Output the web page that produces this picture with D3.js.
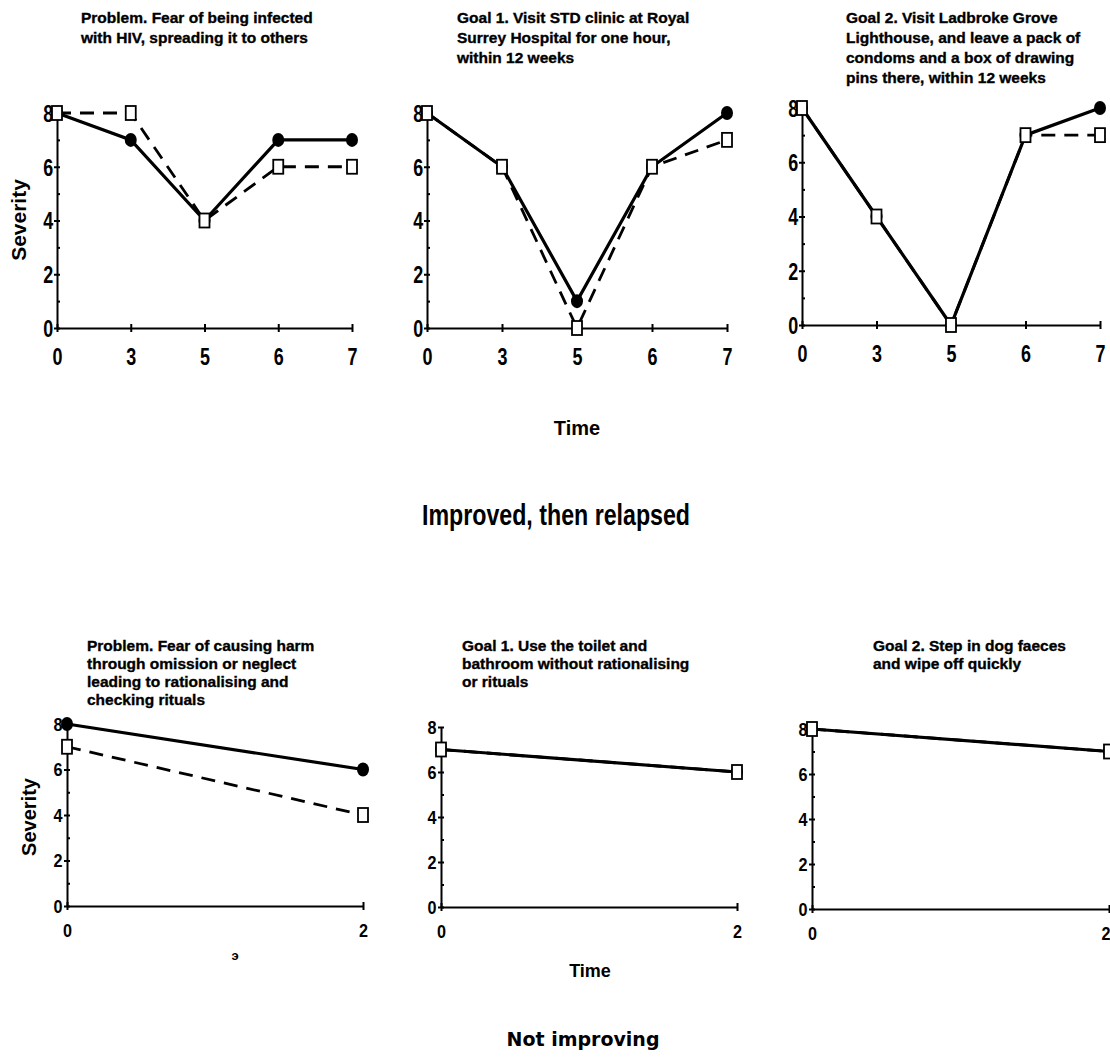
<!DOCTYPE html>
<html>
<head>
<meta charset="utf-8">
<script src="https://cdn.jsdelivr.net/npm/d3@7"></script>
<style>
    body { margin: 0; background: #fff; }
    svg { display: block; }
    .title { font: 700 15.5px "Liberation Sans", Arial, sans-serif; fill: #000; stroke: #000; stroke-width: 0.35; }
    .axis path, .axis line { stroke: #000; stroke-width: 2; }
    .bigTick { font: 700 23px "Liberation Sans", Arial, sans-serif; fill: #000; }
    .smallTick { font: 700 18px "Liberation Sans", Arial, sans-serif; fill: #000; }
    .label { font-family: "Liberation Sans", Arial, sans-serif; font-weight: 700; fill: #000; }
</style>
</head>
<body>
<svg width="1110" height="1057"></svg>
<script>
// time points on the x axis
const topTimes = ["0", "3", "5", "6", "7"];
const bottomTimes = ["0", "2"];
const severityTicks = [0, 2, 4, 6, 8];
const severityMinor = [1, 3, 5, 7];

// panel titles
const topTitles = [
    ["Problem. Fear of being infected", "with HIV, spreading it to others"],
    ["Goal 1. Visit STD clinic at Royal", "Surrey Hospital for one hour,", "within 12 weeks"],
    ["Goal 2. Visit Ladbroke Grove", "Lighthouse, and leave a pack of", "condoms and a box of drawing", "pins there, within 12 weeks"]
];
const bottomTitles = [
    ["Problem. Fear of causing harm", "through omission or neglect", "leading to rationalising and", "checking rituals"],
    ["Goal 1. Use the toilet and", "bathroom without rationalising", "or rituals"],
    ["Goal 2. Step in dog faeces", "and wipe off quickly"]
];

// severity ratings: solid line with filled circles, dashed line with open squares
const hivSolid = [8, 7, 4, 7, 7];
const hivDashed = [8, 8, 4, 6, 6];
const stdSolid = [8, 6, 1, 6, 8];
const stdDashed = [8, 6, 0, 6, 7];
const lighthouseSolid = [8, 4, 0, 7, 8];
const lighthouseDashed = [8, 4, 0, 7, 7];
const harmSolid = [8, 6];
const harmDashed = [7, 4];
const toiletSolid = [7, 6];
const toiletDashed = [7, 6];
const faecesSolid = [8, 7];
const faecesDashed = [8, 7];

let svg = d3.select("svg");

let panels = [
    { times: topTimes, solid: hivSolid, dashed: hivDashed, title: topTitles[0],
      x0: 57, x1: 352, yTop: 113, yBot: 328, titleX: 81, titleY: 23, lead: 20, big: true },
    { times: topTimes, solid: stdSolid, dashed: stdDashed, title: topTitles[1],
      x0: 427, x1: 727, yTop: 113, yBot: 328, titleX: 457, titleY: 23, lead: 20, big: true },
    { times: topTimes, solid: lighthouseSolid, dashed: lighthouseDashed, title: topTitles[2],
      x0: 802, x1: 1100, yTop: 108, yBot: 325, titleX: 846, titleY: 23, lead: 20, big: true },
    { times: bottomTimes, solid: harmSolid, dashed: harmDashed, title: bottomTitles[0],
      x0: 67, x1: 363, yTop: 724, yBot: 906, titleX: 87, titleY: 651, lead: 18, big: false },
    { times: bottomTimes, solid: toiletSolid, dashed: toiletDashed, title: bottomTitles[1],
      x0: 441, x1: 737, yTop: 727, yBot: 907, titleX: 462, titleY: 651, lead: 18, big: false },
    { times: bottomTimes, solid: faecesSolid, dashed: faecesDashed, title: bottomTitles[2],
      x0: 812, x1: 1109, yTop: 729, yBot: 909, titleX: 873, titleY: 651, lead: 18, big: false }
];

function drawPanel(p) {
    let g = svg.append("g");
    let x = d3.scalePoint().domain(p.times).range([p.x0, p.x1]).padding(0);
    let y = d3.scaleLinear().domain([0, 8]).range([p.yBot, p.yTop]);
    let tickClass = p.big ? "bigTick" : "smallTick";
    let squeeze = p.big ? 0.78 : 0.9;

    //title lines
    g.append("text")
        .attr("class", "title")
        .selectAll("tspan")
        .data(p.title)
        .join("tspan")
        .attr("x", p.titleX)
        .attr("y", (d, i) => p.titleY + i * p.lead)
        .text(d => d);

    //minor ticks on the y axis
    g.append("g")
        .attr("class", "axis")
        .attr("transform", "translate(" + p.x0 + ",0)")
        .call(d3.axisRight(y).tickValues(severityMinor).tickSize(3).tickFormat(""))
        .call(a => a.select(".domain").remove())
        .selectAll("line").attr("stroke-width", 1.5);

    //y axis
    g.append("g")
        .attr("class", "axis")
        .attr("transform", "translate(" + p.x0 + ",0)")
        .call(d3.axisLeft(y).tickValues(severityTicks).tickSizeOuter(0).tickSizeInner(3).tickFormat(d3.format("d")))
        .call(a => a.selectAll(".tick line").attr("x1", 3))
        .call(a => a.selectAll(".tick text")
            .attr("class", tickClass)
            .attr("x", -5)
            .attr("dy", "0.36em")
            .attr("transform", "scale(" + squeeze + ",1)"));

    //x axis
    g.append("g")
        .attr("class", "axis")
        .attr("transform", "translate(0," + p.yBot + ")")
        .call(d3.axisBottom(x).tickSizeOuter(0).tickSizeInner(4))
        .call(a => a.selectAll(".tick line").attr("y1", -4))
        .call(a => a.selectAll(".tick text")
            .attr("class", tickClass)
            .attr("y", p.big ? 37 : 31)
            .attr("dy", null)
            .attr("transform", "scale(" + squeeze + ",1)"))
        //keep a label at the page edge inside the picture
        .call(a => a.selectAll(".tick")
            .filter(d => x(d) > 1105)
            .select("text")
            .attr("text-anchor", "end")
            .attr("x", 1));

    let line = d3.line()
        .x((d, i) => x(p.times[i]))
        .y(d => y(d));

    g.append("path")
        .attr("d", line(p.dashed))
        .attr("fill", "none")
        .attr("stroke", "#000")
        .attr("stroke-width", 2.8)
        .attr("stroke-dasharray", "14,9");

    g.append("path")
        .attr("d", line(p.solid))
        .attr("fill", "none")
        .attr("stroke", "#000")
        .attr("stroke-width", 3.2);

    //filled circles
    g.selectAll(".dot")
        .data(p.solid)
        .join("ellipse")
        .attr("class", "dot")
        .attr("cx", (d, i) => x(p.times[i]))
        .attr("cy", d => y(d))
        .attr("rx", 6)
        .attr("ry", 7)
        .attr("fill", "#000");

    //open squares
    g.selectAll(".sq")
        .data(p.dashed)
        .join("rect")
        .attr("class", "sq")
        .attr("x", (d, i) => x(p.times[i]) - 5)
        .attr("y", d => y(d) - 7)
        .attr("width", 10)
        .attr("height", 14)
        .attr("fill", "#fff")
        .attr("stroke", "#000")
        .attr("stroke-width", 1.8);
}

panels.forEach(drawPanel);

//axis labels and group captions
svg.append("text").attr("class", "label")
    .attr("transform", "translate(26,220) rotate(-90)")
    .attr("text-anchor", "middle")
    .style("font-size", "21px")
    .text("Severity");

svg.append("text").attr("class", "label")
    .attr("transform", "translate(36,817) rotate(-90)")
    .attr("text-anchor", "middle")
    .style("font-size", "20px")
    .text("Severity");

svg.append("text").attr("class", "label")
    .attr("x", 577).attr("y", 435)
    .attr("text-anchor", "middle")
    .style("font-size", "20px")
    .text("Time");

svg.append("text").attr("class", "label")
    .attr("x", 590).attr("y", 977)
    .attr("text-anchor", "middle")
    .style("font-size", "18px")
    .text("Time");

svg.append("text").attr("class", "label")
    .attr("x", 235).attr("y", 960)
    .attr("text-anchor", "middle")
    .style("font-size", "13px")
    .text("э");

svg.append("text").attr("class", "label")
    .attr("transform", "translate(556,525) scale(0.8,1)")
    .attr("text-anchor", "middle")
    .style("font-size", "29px")
    .text("Improved, then relapsed");

svg.append("text")
    .attr("x", 583).attr("y", 1046)
    .attr("text-anchor", "middle")
    .style("font", "700 19px 'DejaVu Sans', sans-serif")
    .text("Not improving");
</script>
</body>
</html>
